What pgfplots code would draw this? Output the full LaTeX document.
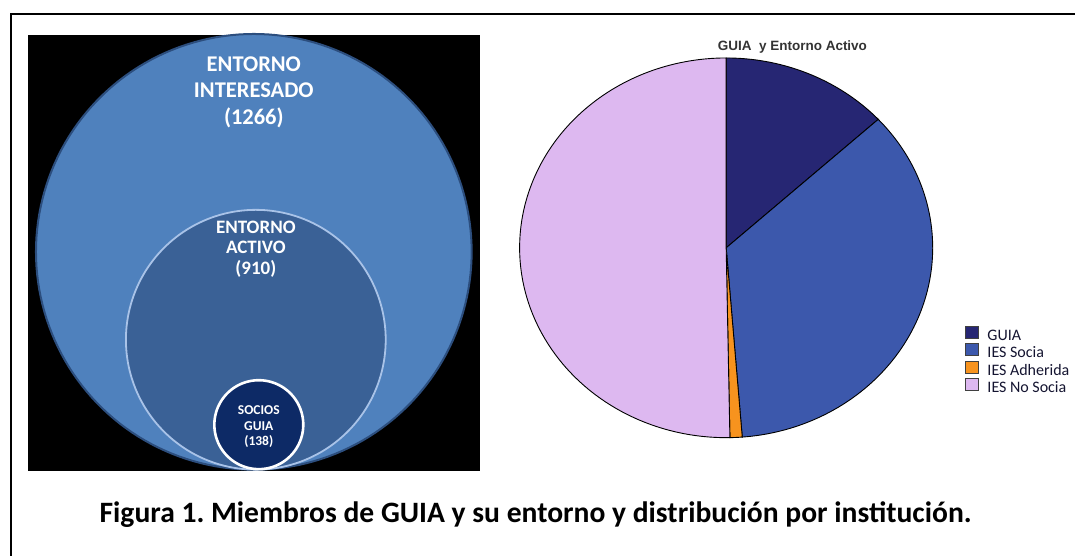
\documentclass[border=0pt]{standalone}
\usepackage{fontspec}
\setmainfont{Carlito}
\newfontfamily\arialf{Liberation Sans}
\usepackage{pgfplots}
\pgfplotsset{compat=1.18}
\frenchspacing
\definecolor{outerblue}{HTML}{4F81BD}
\definecolor{outeredge}{HTML}{2C4E7E}
\definecolor{midblue}{HTML}{3A6196}
\definecolor{midedge}{HTML}{A9C3E8}
\definecolor{innerblue}{HTML}{0D2A66}
\definecolor{cGuia}{HTML}{262673}
\definecolor{cSocia}{HTML}{3C58AC}
\definecolor{cAdh}{HTML}{F7931E}
\definecolor{cNo}{HTML}{DDB8F0}
% pie data (members)
\def\vA{138}\def\vB{373}\def\vC{10}\def\vD{527}
\pgfmathsetmacro\tot{\vA+\vB+\vC+\vD}
\pgfmathsetmacro\aA{90-360*(\vA/\tot)}
\pgfmathsetmacro\aB{\aA-360*(\vB/\tot)}
\pgfmathsetmacro\aC{\aB-360*(\vC/\tot)}
\pgfmathsetmacro\aD{\aC-360*(\vD/\tot)}
\def\cx{726.7}\def\cy{308}\def\rx{206.7}\def\ry{190}
\begin{document}
\begin{tikzpicture}
\begin{axis}[x=1pt,y=1pt,xmin=0,xmax=1076,ymin=0,ymax=556,
  at={(0,0)},anchor=south west,hide axis,clip=false,
  legend style={at={(axis cs:966,230)},anchor=north west,draw=none,fill=none,
    font=\fontsize{16}{18}\selectfont\color[HTML]{141430},row sep=0pt,column sep=8pt,
    inner sep=0pt,cells={anchor=west},nodes={text height=11pt,text depth=3pt,inner sep=0pt}},
  legend image code/.code={\draw[#1,draw=black!75,line width=1pt] (0pt,-2pt) rectangle (13pt,10pt);},
]
% frame
\draw[line width=1.6pt] (axis cs:11,0) -- (axis cs:11,542) -- (axis cs:1076,542);
% black box
\fill[black] (axis cs:28,85) rectangle (axis cs:480,521);
% nested circles
\addplot[forget plot,fill=outerblue,draw=outeredge,line width=2pt,domain=0:360,samples=181,variable=\t]
  ({254+218*cos(\t)},{304+218*sin(\t)}) -- cycle;
\addplot[forget plot,fill=midblue,draw=midedge,line width=1.8pt,domain=0:360,samples=181,variable=\t]
  ({256+130*cos(\t)},{216+130*sin(\t)}) -- cycle;
\addplot[forget plot,fill=innerblue,draw=white,line width=2.6pt,domain=0:360,samples=121,variable=\t]
  ({259+44.5*cos(\t)},{131+44.5*sin(\t)}) -- cycle;
\node[text=white,font=\bfseries\fontsize{22.5}{26.5}\selectfont,align=center] at (axis cs:254,464) {ENTORNO\\INTERESADO\\(1266)};
\node[text=white,font=\bfseries\fontsize{19}{20.5}\selectfont,align=center] at (axis cs:256,307) {ENTORNO\\ACTIVO\\(910)};
\node[text=white,font=\bfseries\fontsize{13.5}{15.5}\selectfont,align=center] at (axis cs:259,129) {SOCIOS\\GUIA\\(138)};
% pie
\addplot[fill=cGuia,draw=black,line width=0.9pt,domain=\aA:90,samples=60,variable=\t]
  ({\cx+\rx*cos(\t)},{\cy+\ry*sin(\t)}) -- (axis cs:\cx,\cy) -- cycle;
\addplot[fill=cSocia,draw=black,line width=0.9pt,domain=\aB:\aA,samples=100,variable=\t]
  ({\cx+\rx*cos(\t)},{\cy+\ry*sin(\t)}) -- (axis cs:\cx,\cy) -- cycle;
\addplot[fill=cAdh,draw=black,line width=0.9pt,domain=\aC:\aB,samples=5,variable=\t]
  ({\cx+\rx*cos(\t)},{\cy+\ry*sin(\t)}) -- (axis cs:\cx,\cy) -- cycle;
\addplot[fill=cNo,draw=black,line width=0.9pt,domain=\aD:\aC,samples=140,variable=\t]
  ({\cx+\rx*cos(\t)},{\cy+\ry*sin(\t)}) -- (axis cs:\cx,\cy) -- cycle;
\legend{GUIA,IES Socia,IES Adherida,IES No Socia}
\node[font=\arialf\bfseries\fontsize{13.5}{15}\selectfont,text=black!80] at (axis cs:793,509) {GUIA\ \ y Entorno Activo};
% caption
\node[font=\bfseries\fontsize{29.6}{33}\selectfont] at (axis cs:536,41) {Figura 1. Miembros de GUIA y su entorno y distribución por institución.};
\end{axis}
\path (0,0) rectangle (1076pt,556pt);
\end{tikzpicture}
\end{document}
